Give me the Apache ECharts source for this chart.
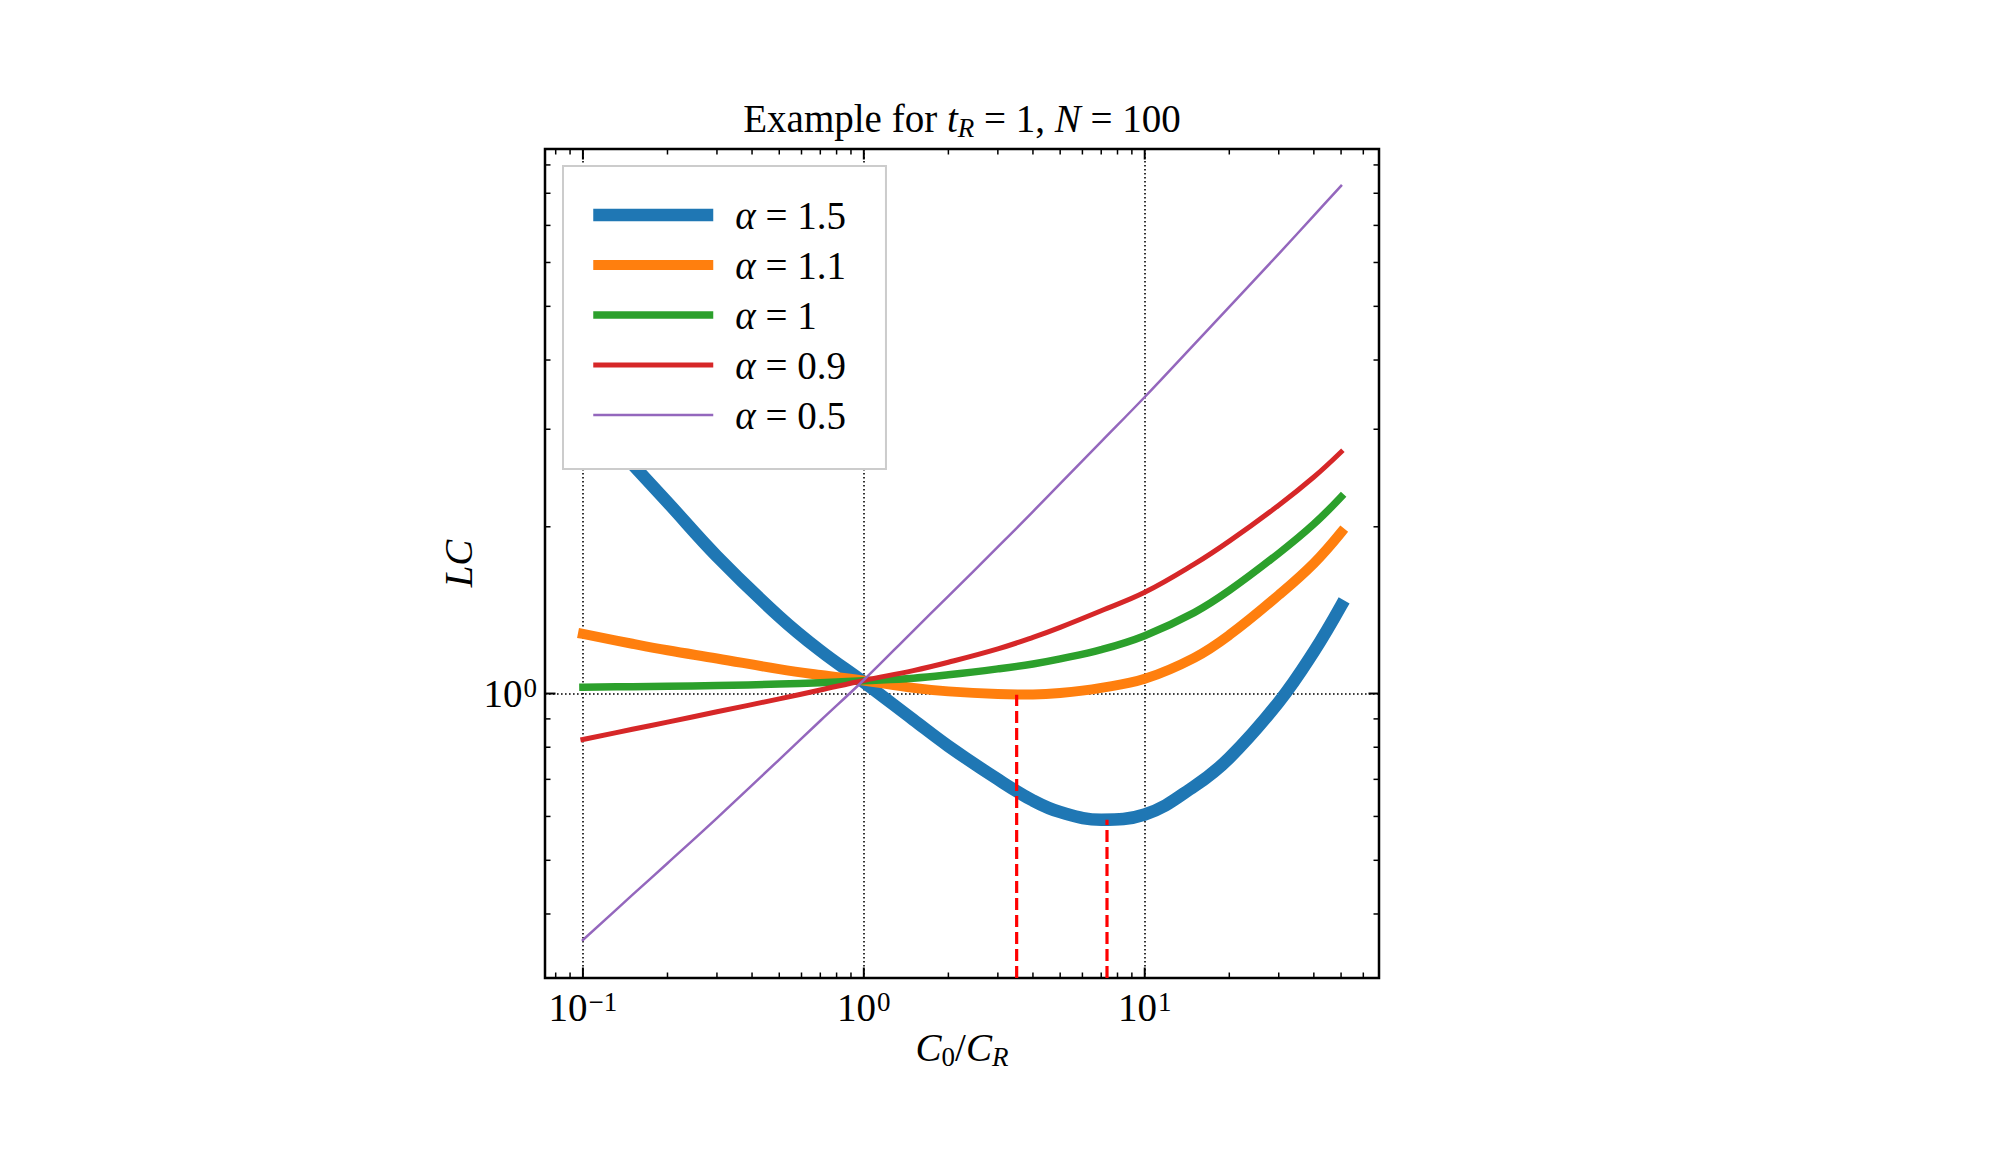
<!DOCTYPE html>
<html>
<head>
<meta charset="utf-8">
<script src="https://cdn.jsdelivr.net/npm/echarts@6/dist/echarts.min.js"></script>
<style>html,body{margin:0;padding:0;background:#fff}#chart{width:1992px;height:1167px}</style>
</head>
<body>
<div id="chart"></div>
<script>
// ---- data ----
const xValues   = [0.1, 0.15, 0.2, 0.3, 0.5, 0.7, 1, 1.5, 2, 3, 4, 5, 7, 10, 15, 20, 30, 40, 50];
const lcAlpha15 = [3.25, 2.593, 2.215, 1.769, 1.377, 1.195, 1.048, 0.897, 0.804, 0.70, 0.641, 0.611, 0.592, 0.605, 0.68, 0.765, 0.965, 1.19, 1.44];
const lcAlpha11 = [1.281, 1.23, 1.197, 1.157, 1.107, 1.080, 1.055, 1.024, 1.009, 0.998, 0.996, 1.002, 1.024, 1.063, 1.16, 1.275, 1.506, 1.718, 1.953];
const lcAlpha10 = [1.027, 1.029, 1.031, 1.034, 1.040, 1.046, 1.055, 1.066, 1.081, 1.108, 1.131, 1.155, 1.2, 1.272, 1.40, 1.535, 1.791, 2.023, 2.264];
const lcAlpha09 = [0.826, 0.862, 0.888, 0.927, 0.978, 1.015, 1.056, 1.100, 1.139, 1.204, 1.263, 1.317, 1.411, 1.523, 1.712, 1.884, 2.188, 2.46, 2.73];
const lcAlpha05 = [0.359, 0.433, 0.494, 0.596, 0.760, 0.893, 1.058, 1.298, 1.499, 1.839, 2.131, 2.392, 2.849, 3.43, 4.27, 4.99, 6.22, 7.29, 8.25];
const seriesNames = ['α = 1.5', 'α = 1.1', 'α = 1', 'α = 0.9', 'α = 0.5'];
const minX  = [3.5, 7.34];     // positions of the minima (red dashed markers)
const minLC = [0.995, 0.592];  // LC at those minima
const xRange = [Math.pow(10, -1.135), Math.pow(10, 1.834)];
const yRange = [Math.pow(10, -0.5135), Math.pow(10, 0.983)];
const xMajorTicks = [0.1, 1, 10];
const yMajorTicks = [1];
const xMinorTicks = [0.08, 0.09, 0.2, 0.3, 0.4, 0.5, 0.6, 0.7, 0.8, 0.9, 2, 3, 4, 5, 6, 7, 8, 9, 20, 30, 40, 50, 60];
const yMinorTicks = [0.4, 0.5, 0.6, 0.7, 0.8, 0.9, 2, 3, 4, 5, 6, 7, 8, 9];
const titleText = 'Example for {i|t}{subi|R} = 1, {i|N} = 100';
const xAxisName = '{i|C}{sub|0}/{i|C}{subi|R}';
const yAxisName = '{i|LC}';

// ---- styling ----
const FONT = 'Liberation Serif';
const FS = 39, SFS = 27, LH = 46;
const colors = ['#1f77b4', '#ff7f0e', '#2ca02c', '#d62728', '#9467bd'];
const widths = [12.5, 10, 7.5, 5, 2.5];
const seriesData = [lcAlpha15, lcAlpha11, lcAlpha10, lcAlpha09, lcAlpha05];

const richBase = {
  i:    {fontFamily: FONT, fontSize: FS, fontStyle: 'italic', lineHeight: LH, color: '#000'},
  r:    {fontFamily: FONT, fontSize: FS, lineHeight: LH, color: '#000'},
  sub:  {fontFamily: FONT, fontSize: SFS, lineHeight: SFS, verticalAlign: 'bottom', color: '#000'},
  subi: {fontFamily: FONT, fontSize: SFS, lineHeight: SFS, verticalAlign: 'bottom', fontStyle: 'italic', color: '#000'},
  sup:  {fontFamily: FONT, fontSize: SFS, lineHeight: SFS, verticalAlign: 'top', padding: [4, 0, 0, 1], color: '#000'}
};

function powLabel(v) {
  const e = Math.log10(v);
  const r = Math.round(e);
  if (Math.abs(e - r) > 1e-6) return '';
  return '{r|10}{sup|' + (r < 0 ? '\u2212' + (-r) : r) + '}';
}

const MAJ = 10.5, MIN = 5.5;
function tickItem(isX, len, width) {
  return function (params, api) {
    const cs = params.coordSys;
    const st = {stroke: '#000', lineWidth: width};
    if (isX) {
      const x = api.coord([api.value(0), 1])[0];
      return {type: 'group', children: [
        {type: 'line', shape: {x1: x, y1: cs.y + cs.height, x2: x, y2: cs.y + cs.height - len}, style: st},
        {type: 'line', shape: {x1: x, y1: cs.y, x2: x, y2: cs.y + len}, style: st}
      ]};
    } else {
      const y = api.coord([1, api.value(1)])[1];
      return {type: 'group', children: [
        {type: 'line', shape: {x1: cs.x, y1: y, x2: cs.x + len, y2: y}, style: st},
        {type: 'line', shape: {x1: cs.x + cs.width, y1: y, x2: cs.x + cs.width - len, y2: y}, style: st}
      ]};
    }
  };
}

const series = seriesNames.map((name, k) => ({
  name: name,
  type: 'line',
  data: xValues.map((x, i) => [x, seriesData[k][i]]),
  showSymbol: false,
  symbol: 'none',
  smooth: 0.4,
  clip: true,
  lineStyle: {color: colors[k], width: widths[k], cap: 'square', join: 'round'},
  itemStyle: {color: colors[k]},
  z: 3
}));

minX.forEach((mx, i) => {
  series.push({
    name: 'min' + i,
    type: 'line',
    data: [[mx, yRange[0]], [mx, minLC[i]]],
    showSymbol: false,
    symbol: 'none',
    clip: true,
    lineStyle: {color: '#ff0000', width: 3.2, type: [12, 5]},
    z: 4
  });
});

series.push({type: 'custom', name: 'xMaj', silent: true, z: 6, data: xMajorTicks.map(v => [v, 1]), renderItem: tickItem(true, MAJ, 2)});
series.push({type: 'custom', name: 'xMin', silent: true, z: 6, data: xMinorTicks.map(v => [v, 1]), renderItem: tickItem(true, MIN, 1.5)});
series.push({type: 'custom', name: 'yMaj', silent: true, z: 6, data: yMajorTicks.map(v => [1, v]), renderItem: tickItem(false, MAJ, 2)});
series.push({type: 'custom', name: 'yMin', silent: true, z: 6, data: yMinorTicks.map(v => [1, v]), renderItem: tickItem(false, MIN, 1.5)});

const gridLine = {show: true, lineStyle: {color: '#000', width: 1.6, type: [1.6, 2.4], opacity: 1}};

const option = {
  animation: false,
  backgroundColor: '#ffffff',
  title: {
    text: titleText,
    left: 962, textAlign: 'center',
    top: 95, padding: 0,
    textStyle: {fontFamily: FONT, fontSize: FS, fontWeight: 'normal', color: '#000', lineHeight: LH, rich: richBase}
  },
  grid: {left: 545, top: 149, width: 834, height: 829, show: true, borderColor: '#000', borderWidth: 2.5,
         backgroundColor: 'transparent', containLabel: false, outerBoundsMode: 'none'},
  legend: {
    data: seriesNames.map((n, k) => ({name: n, lineStyle: {width: widths[k], color: colors[k], cap: 'butt'}, itemStyle: {opacity: 0}})),
    orient: 'vertical',
    left: 563, top: 166,
    padding: [29, 40, 34, 24],
    itemWidth: 120, itemHeight: 30, itemGap: 10,
    backgroundColor: '#ffffff',
    borderColor: '#cccccc', borderWidth: 2, borderRadius: 0,
    selectedMode: false,
    formatter: n => '{i|α}' + n.slice(1),
    textStyle: {fontFamily: FONT, fontSize: FS, color: '#000', lineHeight: 40, padding: [0, 0, 0, 17],
                rich: {i: {fontFamily: FONT, fontSize: FS, fontStyle: 'italic', lineHeight: 40, color: '#000'}}},
    z: 10
  },
  xAxis: {
    type: 'log', logBase: 10, min: xRange[0], max: xRange[1],
    axisLine: {show: false},
    axisTick: {show: false},
    minorTick: {show: false},
    splitLine: gridLine,
    axisLabel: {margin: 6, formatter: powLabel, showMinLabel: false, showMaxLabel: false,
                fontFamily: FONT, fontSize: FS, color: '#000', lineHeight: LH, rich: richBase},
    name: xAxisName, nameLocation: 'middle', nameGap: 46, nameMoveOverlap: false,
    nameTextStyle: {fontFamily: FONT, fontSize: FS, color: '#000', lineHeight: LH, rich: richBase}
  },
  yAxis: {
    type: 'log', logBase: 10, min: yRange[0], max: yRange[1],
    axisLine: {show: false},
    axisTick: {show: false},
    minorTick: {show: false},
    splitLine: gridLine,
    axisLabel: {margin: 8, formatter: powLabel, showMinLabel: false, showMaxLabel: false,
                fontFamily: FONT, fontSize: FS, color: '#000', lineHeight: LH, rich: richBase},
    name: yAxisName, nameLocation: 'middle', nameGap: 64, nameRotate: 90, nameMoveOverlap: false,
    nameTextStyle: {fontFamily: FONT, fontSize: FS, color: '#000', lineHeight: LH, rich: richBase}
  },
  series: series
};

const chart = echarts.init(document.getElementById('chart'), null, {renderer: 'svg', width: 1992, height: 1167});
chart.setOption(option);
</script>
</body>
</html>
